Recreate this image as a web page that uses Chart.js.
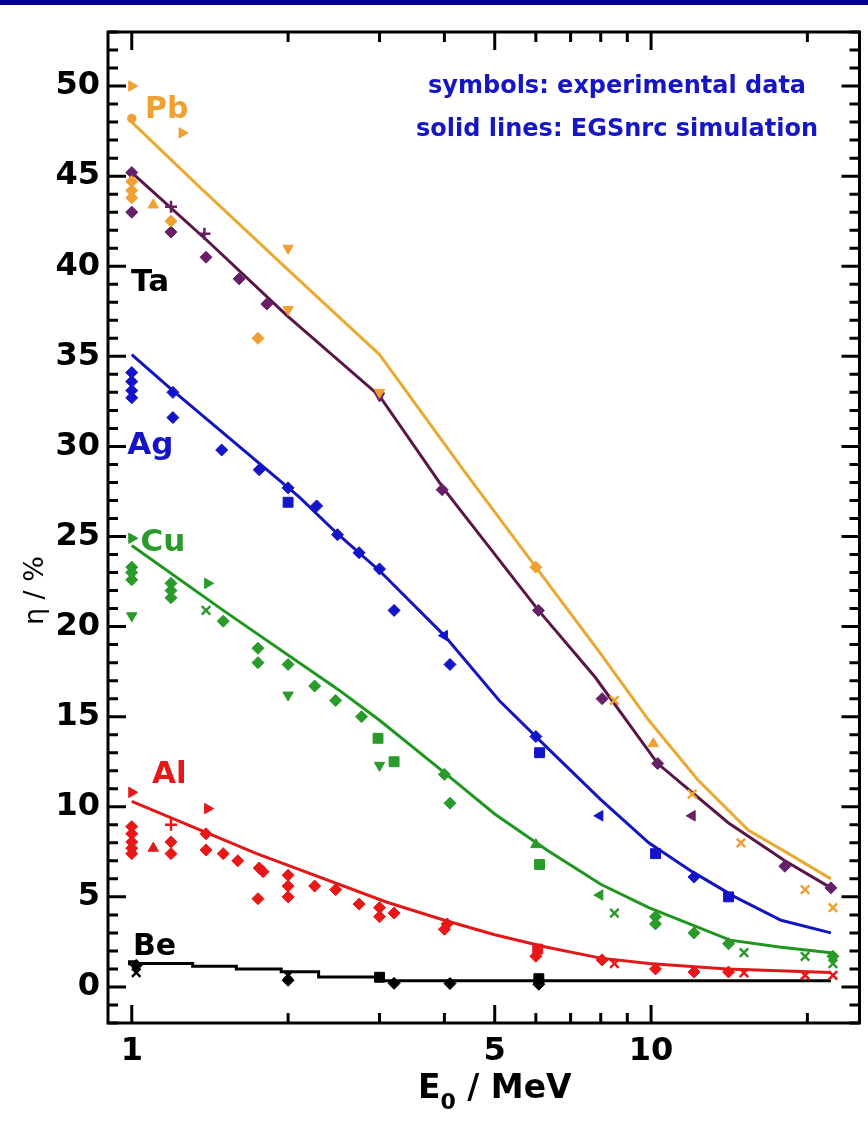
<!DOCTYPE html>
<html>
<head>
<meta charset="utf-8">
<script src="https://cdn.jsdelivr.net/npm/chart.js@4.4.1/dist/chart.umd.min.js"></script>
<style>
  html, body { margin: 0; padding: 0; background: #fff; }
  canvas { display: block; }
</style>
</head>
<body>
<canvas id="chart" width="868" height="1124" style="width:868px;height:1124px"></canvas>
<script>
// axis ticks
const xLabelTicks = [1, 5, 10];
const xMajorTicks = [1, 5, 10];
const xMinorTicks = [2, 3, 4, 6, 7, 8, 9, 20];
const yLabelTicks = [0, 5, 10, 15, 20, 25, 30, 35, 40, 45, 50];

// EGSnrc simulation (solid lines), E0 in MeV, eta in %
const pbSimE = [1, 1.35, 2, 3, 4.4, 6, 7.9, 9.9, 12.3, 15.4, 18.4, 22.2];
const pbSimEta = [48.0, 44.4, 39.8, 35.1, 28.5, 23.3, 18.7, 14.8, 11.5, 8.7, 7.4, 6.0];
const taSimE = [1, 1.4, 2, 3, 4, 6.07, 7.8, 10.3, 14.1, 18.1, 22.2];
const taSimEta = [45.2, 41.4, 37.2, 32.8, 27.6, 20.9, 17.2, 12.4, 9.1, 7.0, 5.5];
const agSimE = [1, 1.2, 2.1, 2.5, 3, 4, 5.1, 6.3, 8, 9.9, 12, 14.5, 17.8, 22.2];
const agSimEta = [35.1, 33.1, 27.2, 25.1, 23.1, 19.5, 15.9, 13.3, 10.4, 8.0, 6.4, 5.0, 3.7, 3.0];
const cuSimE = [1, 1.5, 2.5, 3, 4, 5, 6.3, 8, 9.9, 14.2, 17.8, 22.2];
const cuSimEta = [24.5, 20.9, 16.5, 14.8, 11.9, 9.6, 7.6, 5.7, 4.4, 2.6, 2.2, 1.9];
const alSimE = [1, 1.74, 3.1, 4, 5, 6.3, 8, 9.9, 14, 22.2];
const alSimEta = [10.3, 7.4, 4.7, 3.7, 2.9, 2.2, 1.6, 1.3, 1.0, 0.8];
const beSimE = [0.99, 1.02, 1.31, 1.59, 1.94, 2.29, 3.0, 7.7, 22.2];
const beSimEta = [1.2, 1.4, 1.3, 1.15, 1.0, 0.85, 0.55, 0.35, 0.35];

// experimental data (symbols); set codes: d diamond, t/v/r/l triangles, x cross, + plus, s square, o circle
const pbE = [1, 1, 1, 1, 1, 1.1, 1.19, 1.25, 1.75, 2, 2, 3, 6, 8.5, 10.1, 12, 14.9, 19.8, 22.4];
const pbEta = [50.0, 48.2, 44.7, 44.2, 43.8, 43.4, 42.5, 47.4, 36.0, 41.0, 37.6, 33.0, 23.3, 15.9, 13.5, 10.7, 8.0, 5.4, 4.4];
const pbSet = ['r', 'o', 'd', 'd', 'd', 't', 'd', 'r', 'd', 'v', 'v', 'v', 'd', 'x', 't', 'x', 'x', 'x', 'x'];

const taE = [1, 1, 1.19, 1.19, 1.38, 1.39, 1.61, 1.82, 3, 3.96, 6.07, 8.05, 10.3, 12, 18.1, 22.2];
const taEta = [45.2, 43.0, 43.3, 41.9, 41.8, 40.5, 39.3, 37.9, 32.8, 27.6, 20.9, 16.0, 12.4, 9.5, 6.7, 5.5];
const taSet = ['d', 'd', '+', 'd', '+', 'd', 'd', 'd', 'v', 'd', 'd', 'd', 'd', 'l', 'd', 'd'];

const agE = [1, 1, 1, 1, 1.2, 1.2, 1.49, 1.76, 2.0, 2.0, 2.27, 2.49, 2.74, 3.0, 3.2, 4.0, 4.1, 6.0, 6.1, 7.97, 10.2, 12.1, 14.1];
const agEta = [34.1, 33.6, 33.1, 32.7, 33.0, 31.6, 29.8, 28.7, 27.7, 26.9, 26.7, 25.1, 24.1, 23.2, 20.9, 19.5, 17.9, 13.9, 13.0, 9.5, 7.4, 6.1, 5.0];
const agSet = ['d', 'd', 'd', 'd', 'd', 'd', 'd', 'd', 'd', 's', 'd', 'd', 'd', 'd', 'd', 'l', 'd', 'd', 's', 'l', 's', 'd', 's'];

const cuE = [1, 1, 1, 1, 1, 1.19, 1.19, 1.19, 1.4, 1.39, 1.5, 1.75, 1.75, 2.0, 2.0, 2.25, 2.47, 2.77, 2.98, 3.0, 3.2, 4.0, 4.1, 6.0, 6.1, 7.97, 8.5, 10.2, 10.2, 12.1, 14.1, 15.1, 19.8, 22.4, 22.4];
const cuEta = [24.9, 23.3, 23.0, 22.6, 20.6, 22.4, 22.0, 21.6, 22.4, 20.9, 20.3, 18.8, 18.0, 17.9, 16.2, 16.7, 15.9, 15.0, 13.8, 12.3, 12.5, 11.8, 10.2, 7.9, 6.8, 5.1, 4.1, 3.9, 3.5, 3.0, 2.4, 1.9, 1.7, 1.7, 1.3];
const cuSet = ['r', 'd', 'd', 'd', 'v', 'd', 'd', 'd', 'r', 'x', 'd', 'd', 'd', 'd', 'v', 'd', 'd', 'd', 's', 'v', 's', 'd', 'd', 't', 's', 'l', 'x', 'd', 'd', 'd', 'd', 'x', 'x', 'd', 'x'];

const alE = [1, 1, 1, 1, 1, 1, 1.1, 1.19, 1.19, 1.19, 1.4, 1.39, 1.39, 1.5, 1.6, 1.76, 1.79, 1.75, 2.0, 2.0, 2.0, 2.25, 2.47, 2.74, 3.0, 3.0, 3.2, 4.0, 4.05, 6.0, 6.05, 8.05, 8.5, 10.2, 12.1, 14.1, 15.1, 19.8, 22.4];
const alEta = [10.8, 8.9, 8.5, 8.05, 7.7, 7.4, 7.7, 9.0, 8.05, 7.4, 9.9, 8.5, 7.6, 7.4, 7.0, 6.6, 6.4, 4.9, 6.2, 5.6, 5.0, 5.6, 5.4, 4.6, 4.4, 3.9, 4.1, 3.2, 3.5, 1.7, 2.1, 1.5, 1.3, 1.0, 0.83, 0.83, 0.78, 0.65, 0.65];
const alSet = ['r', 'd', 'd', 'd', 'd', 'd', 't', '+', 'd', 'd', 'r', 'd', 'd', 'd', 'd', 'd', 'd', 'd', 'd', 'd', 'd', 'd', 'd', 'd', 'd', 'd', 'd', 'd', 'd', 'd', 's', 'd', 'x', 'd', 'd', 'd', 'x', 'x', 'x'];

const beE = [1.02, 1.02, 2.0, 2.0, 3.0, 3.2, 4.1, 6.08, 6.08];
const beEta = [1.2, 0.8, 0.65, 0.37, 0.54, 0.2, 0.19, 0.46, 0.15];
const beSet = ['d', 'x', 'x', 'd', 's', 'd', 'd', 's', 'd'];

const elements = ['Pb', 'Ta', 'Ag', 'Cu', 'Al', 'Be'];
const noteLines = ['symbols: experimental data', 'solid lines: EGSnrc simulation'];

const lineColors = { Pb: '#e8aa32', Ta: '#5a1646', Ag: '#1414c0', Cu: '#1f961f', Al: '#e01818', Be: '#000000' };
const markColors = { Pb: '#f0a032', Ta: '#66206a', Ag: '#1414c8', Cu: '#2a9a2a', Al: '#e81818', Be: '#000000' };
// where the element names sit (left edge, baseline) in data units
const labelAt = { Pb: [1.06, 48.2], Ta: [0.997, 38.6], Ag: [0.98, 29.6], Cu: [1.04, 24.2], Al: [1.094, 11.3], Be: [1.005, 1.76] };
const labelFont = {
  Pb: 'bold 30px "DejaVu Sans"', Ta: 'bold 31px "DejaVu Sans"', Ag: 'bold 31px "DejaVu Sans"',
  Cu: 'bold 31px "DejaVu Sans"', Al: 'bold 31px "DejaVu Sans"', Be: 'bold 30px "DejaVu Sans"'
};

const SHAPES = {
  d: ['rectRot', 0], t: ['triangle', 0], v: ['triangle', 180], r: ['triangle', 90], l: ['triangle', 270],
  x: ['crossRot', 0], '+': ['cross', 0], s: ['rect', 0], o: ['circle', 0]
};

const pts = (xs, ys) => xs.map((x, i) => ({ x, y: ys[i] }));

function markers(name, xs, ys, set) {
  const col = markColors[name];
  return {
    label: name + ' data',
    data: pts(xs, ys),
    showLine: false,
    pointStyle: set.map(s => SHAPES[s][0]),
    rotation: set.map(s => SHAPES[s][1]),
    pointRadius: set.map(s => (s === 'o' ? 3.5 : s === 's' ? 7 : 6)),
    pointBackgroundColor: col,
    pointBorderColor: col,
    pointBorderWidth: set.map(s => ('x+o'.includes(s) ? 2.5 : 1)),
  };
}

function curve(name, xs, ys, stepped) {
  return {
    label: name + ' EGSnrc',
    data: pts(xs, ys),
    showLine: true,
    borderColor: lineColors[name],
    borderWidth: 3,
    pointRadius: 0,
    fill: false,
    tension: 0,
    stepped: stepped || false,
  };
}

const datasets = [
  markers('Pb', pbE, pbEta, pbSet),
  markers('Ta', taE, taEta, taSet),
  markers('Ag', agE, agEta, agSet),
  markers('Cu', cuE, cuEta, cuSet),
  markers('Al', alE, alEta, alSet),
  markers('Be', beE, beEta, beSet),
  curve('Ta', taSimE, taSimEta),
  curve('Pb', pbSimE, pbSimEta),
  curve('Ag', agSimE, agSimEta),
  curve('Cu', cuSimE, cuSimEta),
  curve('Al', alSimE, alSimEta),
  curve('Be', beSimE, beSimEta, 'after'),
];

const tickFont = { family: 'DejaVu Sans', weight: 'bold', size: 32 };

const framePlugin = {
  id: 'frame',
  beforeDraw(chart) {
    const c = chart.ctx;
    c.save();
    c.fillStyle = '#ffffff';
    c.fillRect(0, 0, chart.width, chart.height);
    c.fillStyle = '#00008c';
    c.fillRect(0, 0, chart.width, 5);
    c.restore();
  },
  afterDatasetsDraw(chart) {
    const { ctx: c, chartArea: a, scales: { x, y } } = chart;
    c.save();
    c.strokeStyle = '#000';
    c.lineWidth = 3;
    c.beginPath();
    const seg = (x1, y1, x2, y2) => { c.moveTo(x1, y1); c.lineTo(x2, y2); };
    xMajorTicks.forEach(v => {
      const p = x.getPixelForValue(v);
      seg(p, a.bottom, p, a.bottom - 18); seg(p, a.top, p, a.top + 18);
    });
    xMinorTicks.forEach(v => {
      const p = x.getPixelForValue(v);
      seg(p, a.bottom, p, a.bottom - 10); seg(p, a.top, p, a.top + 10);
    });
    for (let v = Math.ceil(y.min); v <= y.max; v++) {
      const p = y.getPixelForValue(v);
      const len = v % 5 === 0 ? 18 : 10;
      seg(a.left, p, a.left + len, p); seg(a.right, p, a.right - len, p);
    }
    c.stroke();
    c.strokeRect(a.left, a.top, a.right - a.left, a.bottom - a.top);
    c.restore();
  },
  afterDraw(chart) {
    const { ctx: c, chartArea: a, scales: { x, y } } = chart;
    c.save();
    c.textBaseline = 'alphabetic';

    // blue note, two centred lines
    c.font = 'bold 24px "DejaVu Sans"';
    c.fillStyle = '#1616c4';
    c.textAlign = 'center';
    c.fillText(noteLines[0], x.getPixelForValue(8.6), y.getPixelForValue(49.6));
    c.fillText(noteLines[1], x.getPixelForValue(8.6), y.getPixelForValue(47.25));

    // element names
    c.textAlign = 'left';
    elements.forEach(el => {
      c.font = labelFont[el];
      c.fillStyle = el === 'Ta' || el === 'Be' ? '#000' : markColors[el];
      const [e, eta] = labelAt[el];
      c.fillText(el, x.getPixelForValue(e), y.getPixelForValue(eta));
    });

    // y title
    c.fillStyle = '#000';
    c.font = '27px "DejaVu Sans"';
    c.save();
    c.translate(a.left - 72, y.getPixelForValue(22));
    c.rotate(-Math.PI / 2);
    c.textAlign = 'center';
    c.textBaseline = 'middle';
    c.fillText('\u03b7 / %', 0, 0);
    c.restore();

    // x title with subscript
    const big = 'bold 33px "DejaVu Sans"', small = 'bold 22px "DejaVu Sans"';
    c.font = big; const wE = c.measureText('E').width; const wRest = c.measureText(' / MeV').width;
    c.font = small; const w0 = c.measureText('0').width;
    let px = x.getPixelForValue(5) - (wE + w0 + wRest) / 2;
    const base = a.bottom + 75;
    c.textAlign = 'left';
    c.font = big; c.fillText('E', px, base); px += wE;
    c.font = small; c.fillText('0', px, base + 11); px += w0;
    c.font = big; c.fillText(' / MeV', px, base);
    c.restore();
  }
};

new Chart(document.getElementById('chart'), {
  type: 'scatter',
  data: { datasets },
  options: {
    responsive: false,
    animation: false,
    layout: { padding: { left: 0, right: 5, top: 32, bottom: 0 } },
    plugins: { legend: { display: false }, tooltip: { enabled: false } },
    scales: {
      x: {
        type: 'logarithmic',
        min: 0.9,
        max: 25.2,
        grid: { display: false, drawTicks: false },
        border: { display: false },
        afterBuildTicks: s => { s.ticks = xLabelTicks.map(v => ({ value: v })); },
        afterFit: s => { s.height = 101; },
        ticks: { font: tickFont, color: '#000', padding: 9, autoSkip: false, maxRotation: 0, callback: v => String(v) },
      },
      y: {
        min: -2,
        max: 53,
        grid: { display: false, drawTicks: false },
        border: { display: false },
        afterBuildTicks: s => { s.ticks = yLabelTicks.map(v => ({ value: v })); },
        afterFit: s => { s.width = 108; },
        ticks: { font: tickFont, color: '#000', padding: 8, autoSkip: false, callback: v => String(v) },
      },
    },
  },
  plugins: [framePlugin],
});
</script>
</body>
</html>
